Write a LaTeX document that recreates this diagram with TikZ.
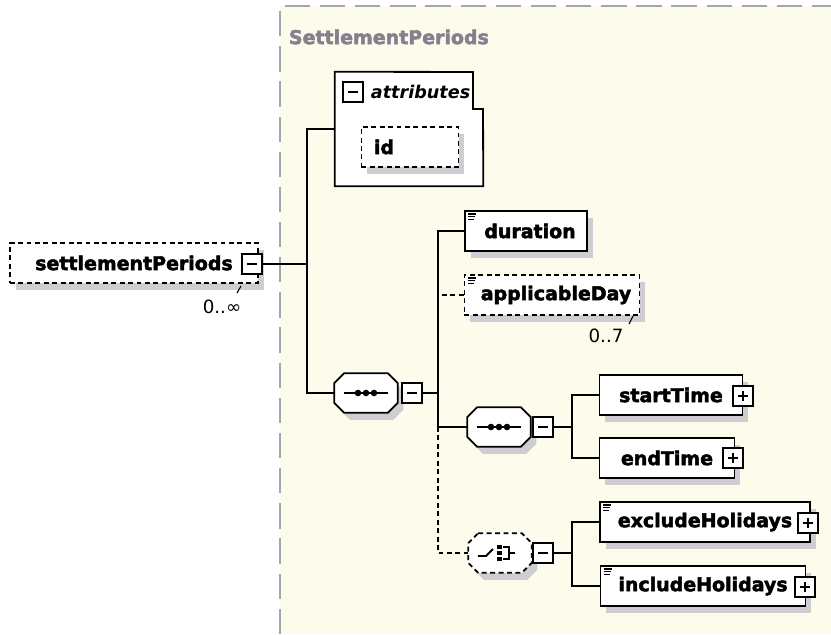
\documentclass[tikz,border=0pt]{standalone}
\usepackage{fontspec}
\setmainfont{DejaVu Sans}[BoldFeatures={FakeBold=2.5}]
\usetikzlibrary{shadows,positioning}
\definecolor{bgcream}{RGB}{253,252,236}
\definecolor{framegray}{RGB}{165,165,172}
\definecolor{titlegray}{RGB}{132,128,142}
\definecolor{shadowgray}{RGB}{205,205,210}

\tikzset{
  conn/.style={line width=1.3pt},
  optline/.style={dash pattern=on 3.5pt off 2.5pt},
  elem/.style={draw, line width=1.3pt, fill=white, minimum height=1cm, inner sep=0pt,
    font=\fontsize{13.5}{15}\selectfont\bfseries,
    drop shadow={shadow xshift=4pt, shadow yshift=-5pt, fill=shadowgray, opacity=1}},
  optelem/.style={elem, optline},
  compositor/.style={minimum width=1.575cm, minimum height=0.975cm, inner sep=0pt},
  iconbox/.style={draw, line width=1.5pt, fill=white, minimum size=0.5cm, inner sep=0pt},
  minusbox/.style={iconbox, path picture={
    \draw[line width=1pt] ([xshift=-3.5pt]path picture bounding box.center) -- ([xshift=3.5pt]path picture bounding box.center);}},
  plusbox/.style={iconbox, path picture={
    \draw[line width=1pt] ([xshift=-3.5pt]path picture bounding box.center) -- ([xshift=3.5pt]path picture bounding box.center);
    \draw[line width=1pt] ([yshift=-3.5pt]path picture bounding box.center) -- ([yshift=3.5pt]path picture bounding box.center);}},
  occurs/.style={font=\fontsize{13}{15}\selectfont}
}

% octagon outline round a compositor node
\newcommand{\octpath}[1]{([xshift=0.25cm]#1.north west) -- ([xshift=-0.25cm]#1.north east)
  -- ([yshift=-0.25cm]#1.north east) -- ([yshift=0.25cm]#1.south east)
  -- ([xshift=-0.25cm]#1.south east) -- ([xshift=0.25cm]#1.south west)
  -- ([yshift=0.25cm]#1.south west) -- ([yshift=-0.25cm]#1.north west) -- cycle}
\newcommand{\compbox}[2]{%
  \fill[shadowgray, transform canvas={xshift=4pt,yshift=-5pt}] \octpath{#1};
  \draw[line width=1.3pt, fill=white, #2] \octpath{#1};}

\begin{document}
\begin{tikzpicture}[x=0.025cm,y=-0.025cm]
\useasboundingbox (0,0) rectangle (831,634);

% complex type frame
\fill[bgcream] (280,6) rectangle (831,634);
\draw[framegray, line width=1pt, dash pattern=on 18pt off 7pt] (280,634) -- (280,6) -- (831,6);
\node[anchor=west, text=titlegray, font=\fontsize{13.5}{15}\selectfont\bfseries] (title) at (284,37) {SettlementPeriods};

% root element
\node[optelem, minimum width=6.2cm] (sp) at (134,263) {settlementPeriods\hspace{0.45cm}};
\node[minusbox] (spm) at (252,264) {};
\node[occurs] (spocc) at (222,307) {0..∞};
\draw[line width=0.8pt] (241,286) -- (237,293);

% attributes
\node[minimum width=3.7cm, minimum height=2.85cm, inner sep=0pt] (attr) at (409,129) {};
\draw[line width=1.3pt, fill=white] (attr.north west) -- (473,72) -- (473,109) -- (483,109) -- (attr.south east) -- (attr.south west) -- cycle;
\node[minusbox] (attrm) at (353,92) {};
\node[anchor=west, font=\fontsize{12.5}{14}\selectfont\bfseries\itshape] (attrlbl) at (366,92) {attributes};
\node[optelem, minimum width=2.425cm, text width=1.8cm, align=left] (id) at (410,147) {id};

% first sequence
\coordinate (b1) at (307,264);
\node[compositor] (seqA) at (366,393) {};
\compbox{seqA}{}
\node[minusbox] (seqAm) at (412,393) {};
\coordinate (b2) at (438,393);

\node[elem, minimum width=3.05cm] (dur) at (526,231) {\hspace{0.2cm}duration};
\node[optelem, minimum width=4.375cm] (appDay) at (552,295) {\hspace{0.2cm}applicableDay};
\node[occurs] (appocc) at (606,336) {0..7};
\draw[line width=0.8pt] (633,316) -- (629,324);

% second sequence
\node[compositor] (seqB) at (499,427) {};
\compbox{seqB}{}
\node[minusbox] (seqBm) at (543,427) {};
\coordinate (b3) at (572,427);
\node[elem, minimum width=3.575cm] (start) at (671,395) {startTime\hspace{0.25cm}};
\node[plusbox] (startp) at (743,396) {};
\node[elem, minimum width=3.375cm] (end) at (667,458) {endTime\hspace{0.25cm}};
\node[plusbox] (endp) at (733,458) {};

% choice
\node[compositor] (choice) at (500,553) {};
\compbox{choice}{optline}
\node[minusbox] (choicem) at (543,553) {};
\coordinate (b4) at (572,553);
\node[elem, minimum width=5.25cm] (excl) at (705,522) {excludeHolidays\hspace{0.2cm}};
\node[plusbox] (exclp) at (808,523) {};
\node[elem, minimum width=5.125cm] (incl) at (703,586) {includeHolidays\hspace{0.2cm}};
\node[plusbox] (inclp) at (805,587) {};

% compositor symbols
\foreach \c in {seqA,seqB} {
  \draw[line width=1.4pt] ([xshift=-0.55cm]\c.center) -- ([xshift=0.55cm]\c.center);
  \foreach \d in {-8,0,8} \fill ([shift={(\d,0)}]\c.center) circle (3.3);
}
\draw[line width=1.3pt] ([shift={(-22,3)}]choice.center) -- ([shift={(-14,3)}]choice.center) -- ([shift={(-7,-4)}]choice.center);
\foreach \d in {-6,0,6} \fill ([shift={(-3,\d-2)}]choice.center) rectangle ([shift={(2,\d+2)}]choice.center);
\draw[line width=1.2pt] ([shift={(3,-6)}]choice.center) -- ([shift={(9,-6)}]choice.center) -- ([shift={(9,6)}]choice.center) -- ([shift={(3,6)}]choice.center);
\draw[line width=1.2pt] ([shift={(9,0)}]choice.center) -- ([shift={(15,0)}]choice.center);

% simple type marks
\foreach \n in {dur,appDay,excl,incl}
  \foreach \k in {0,1,2} \draw[line width=0.9pt] ([shift={(4,4+2.6*\k)}]\n.north west) -- ++(8-\k,0);

% connectors
\draw[conn] (spm.east) -- (b1);
\draw[conn] (attr.west) -| (b1) |- (seqA.west);
\draw[conn] (seqAm.east) -- (b2);
\draw[conn] (dur.west) -| (b2) |- (seqB.west);
\draw[conn, optline] (appDay.west) -- (appDay.west -| b2);
\draw[conn, optline] (b2 |- seqB.west) |- (choice.west);
\draw[conn] (seqBm.east) -- (b3);
\draw[conn] (start.west) -| (b3) |- (end.west);
\draw[conn] (choicem.east) -- (b4);
\draw[conn] (excl.west) -| (b4) |- (incl.west);
\end{tikzpicture}
\end{document}
